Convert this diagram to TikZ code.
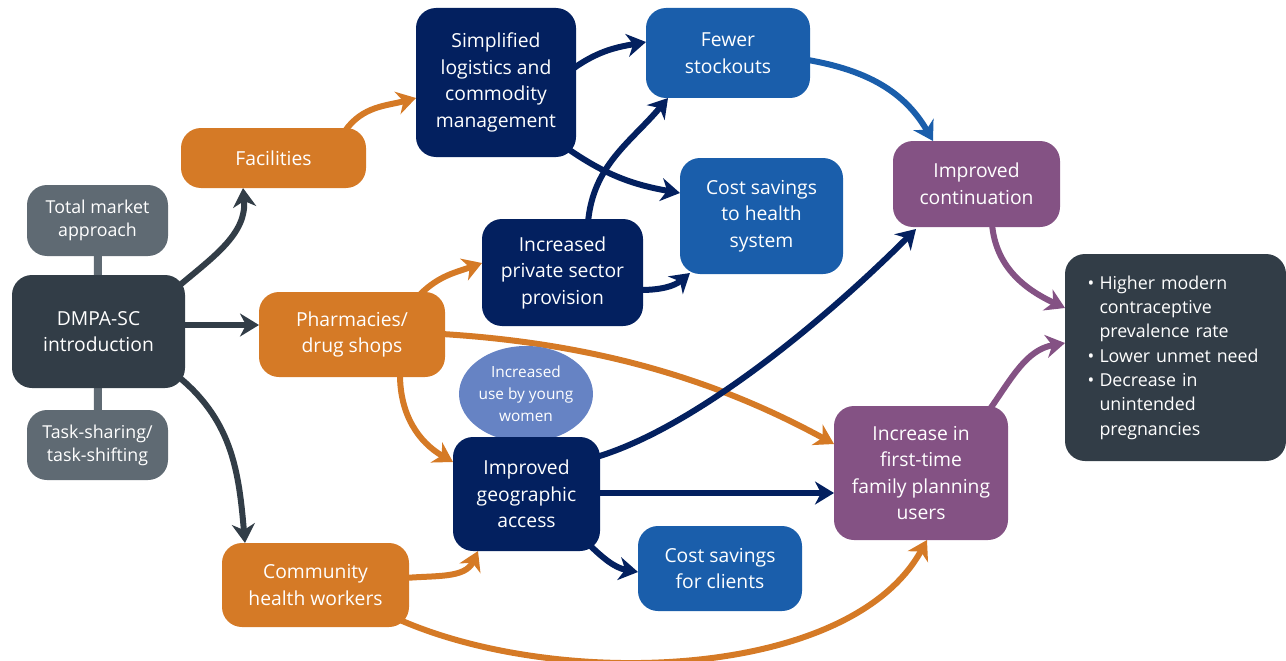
\documentclass[tikz,border=0pt]{standalone}
\usepackage{fontspec}
\setmainfont{Open Sans}
\usetikzlibrary{arrows.meta,shapes.geometric}
\definecolor{slate}{HTML}{323D47}
\definecolor{graybox}{HTML}{5F6A73}
\definecolor{orangeb}{HTML}{D57A26}
\definecolor{navyb}{HTML}{03205F}
\definecolor{blueb}{HTML}{1A5EAB}
\definecolor{lightb}{HTML}{6683C4}
\definecolor{purpleb}{HTML}{845284}
\pgfdeclarelayer{background}
\pgfsetlayers{background,main}
\begin{document}
\begin{tikzpicture}[x=1pt,y=-1pt,
  box/.style={rounded corners=20pt, text=white, align=center, inner sep=0pt,
    font=\fontsize{19.3}{26.5}\selectfont},
  smallbox/.style={box, fill=graybox, font=\fontsize{17.8}{23}\selectfont},
  arr/.style={line width=6pt, -{Stealth[length=19pt,width=23pt,inset=6pt]}},
  conn/.style={line width=8pt, draw=graybox}
]
\useasboundingbox (0,0) rectangle (1286,661);

% nodes
\node[box, fill=slate, minimum width=173pt, minimum height=113pt] (dmpa) at (98.5,331.5) {DMPA-SC\\introduction};
\node[smallbox, minimum width=141pt, minimum height=71pt] (tma) at (97.5,220.5) {Total market\\approach};
\node[smallbox, minimum width=141pt, minimum height=70pt] (tsk) at (97.5,445) {Task-sharing/\\task-shifting};
\node[box, fill=orangeb, minimum width=185pt, minimum height=60pt] (fac) at (273.5,158) {Facilities};
\node[box, fill=orangeb, minimum width=186pt, minimum height=85pt] (pharm) at (352,334.5) {Pharmacies/\\drug shops};
\node[box, fill=orangeb, minimum width=187pt, minimum height=84pt] (chw) at (315.5,585) {Community\\health workers};
\node[box, fill=navyb, minimum width=160pt, minimum height=149pt] (simp) at (496,82.5) {Simplified\\logistics and\\commodity\\management};
\node[box, fill=blueb, minimum width=164pt, minimum height=90pt] (fewer) at (728,53) {Fewer\\stockouts};
\node[box, fill=blueb, minimum width=163pt, minimum height=116pt] (costh) at (761.5,216) {Cost savings\\to health\\system};
\node[box, fill=navyb, minimum width=161pt, minimum height=107pt] (priv) at (562.5,272.5) {Increased\\private sector\\provision};
\node[ellipse, fill=lightb, text=white, align=center, inner sep=0pt, minimum width=132pt, minimum height=96pt,
  font=\fontsize{15.4}{22}\selectfont] (young) at (526,394) {Increased\\use by young\\women};
\node[box, fill=navyb, minimum width=147pt, minimum height=114pt] (geo) at (526.5,494) {Improved\\geographic\\access};
\node[box, fill=blueb, minimum width=164pt, minimum height=85pt] (clients) at (720,568.5) {Cost savings\\for clients};
\node[box, fill=purpleb, minimum width=167pt, minimum height=86pt] (cont) at (976.5,184) {Improved\\continuation};
\node[box, fill=purpleb, minimum width=174pt, minimum height=134pt] (incfp) at (921,473) {Increase in\\first-time\\family planning\\users};
\node[box, fill=slate, minimum width=221pt, minimum height=207pt, text width=176pt, align=left,
  font=\fontsize{17.8}{24.3}\selectfont] (outc) at (1175.5,357.5)
  {\makebox[12pt][l]{•}Higher modern\\\hspace*{12pt}contraceptive\\\hspace*{12pt}prevalence rate\\\makebox[12pt][l]{•}Lower unmet need\\\makebox[12pt][l]{•}Decrease in\\\hspace*{12pt}unintended\\\hspace*{12pt}pregnancies};

\begin{pgfonlayer}{background}
% gray connectors
\draw[conn] (tma.center) -- (dmpa.center);
\draw[conn] (tsk.center) -- (dmpa.center);
% from DMPA-SC
\draw[arr, draw=slate] ([xshift=81.5pt,yshift=46.5pt]dmpa.center) to[out=40,in=-85] ([xshift=-30.5pt,yshift=-30pt]fac.center);
\draw[arr, draw=slate] ([xshift=80pt,yshift=6.5pt]dmpa.center) -- ([xshift=-93pt,yshift=9.5pt]pharm.center);
\draw[arr, draw=slate] ([xshift=81.5pt,yshift=-46.5pt]dmpa.center) to[out=-40,in=95] ([xshift=-70.5pt,yshift=42pt]chw.center);
% orange
\draw[arr, draw=orangeb] ([xshift=71.5pt,yshift=27pt]fac.center) to[out=55,in=195] ([xshift=-80pt,yshift=-15.5pt]simp.center);
\draw[arr, draw=orangeb] ([xshift=68pt,yshift=40pt]pharm.center) to[out=45,in=200] ([xshift=-80.5pt,yshift=9.5pt]priv.center);
\draw[arr, draw=orangeb] ([xshift=48pt,yshift=-40pt]pharm.center) to[out=-90,in=150] ([xshift=-73.5pt,yshift=32pt]geo.center);
\draw[arr, draw=orangeb] ([xshift=90pt,yshift=0.5pt]pharm.center) .. controls +(163,10) and +(-110,-60) .. ([xshift=-87pt,yshift=29pt]incfp.center);
\draw[arr, draw=orangeb] ([xshift=90pt,yshift=7pt]chw.center) to[out=5,in=-115] ([xshift=-48.5pt,yshift=-57pt]geo.center);
\draw[arr, draw=orangeb] ([xshift=84.5pt,yshift=-35pt]chw.center) .. controls +(160,70) and +(-77,140) .. ([xshift=6pt,yshift=-67pt]incfp.center);
% navy
\draw[arr, draw=navyb] ([xshift=78pt,yshift=14.5pt]simp.center) to[out=35,in=190] ([xshift=-82pt,yshift=11pt]fewer.center);
\draw[arr, draw=navyb] ([xshift=70pt,yshift=-65pt]simp.center) to[out=-35,in=170] ([xshift=-81.5pt,yshift=23pt]costh.center);
\draw[arr, draw=navyb] ([xshift=25.5pt,yshift=50pt]priv.center) to[out=85,in=-130] ([xshift=-60pt,yshift=-45pt]fewer.center);
\draw[arr, draw=navyb] ([xshift=78pt,yshift=-17.5pt]priv.center) to[out=0,in=-140] ([xshift=-71.5pt,yshift=-57pt]costh.center);
\draw[arr, draw=navyb] ([xshift=70pt,yshift=37pt]geo.center) .. controls +(100,-30) and +(-90,90) .. ([xshift=-60.5pt,yshift=-45pt]cont.center);
\draw[arr, draw=navyb] ([xshift=70pt,yshift=1pt]geo.center) -- ([xshift=-87pt,yshift=-20pt]incfp.center);
\draw[arr, draw=navyb] ([xshift=60pt,yshift=-48pt]geo.center) to[out=-45,in=170] ([xshift=-82pt,yshift=-3.5pt]clients.center);
% blue
\draw[arr, draw=blueb] ([xshift=80pt,yshift=-7pt]fewer.center) to[out=-10,in=120] ([xshift=-43.5pt,yshift=43pt]cont.center);
% purple
\draw[arr, draw=purpleb] ([xshift=15.5pt,yshift=-40pt]cont.center) to[out=-85,in=155] ([xshift=-110.5pt,yshift=49.5pt]outc.center);
\draw[arr, draw=purpleb] ([xshift=69pt,yshift=64pt]incfp.center) to[out=55,in=190] ([xshift=-110.5pt,yshift=14.5pt]outc.center);
\end{pgfonlayer}
\end{tikzpicture}
\end{document}
